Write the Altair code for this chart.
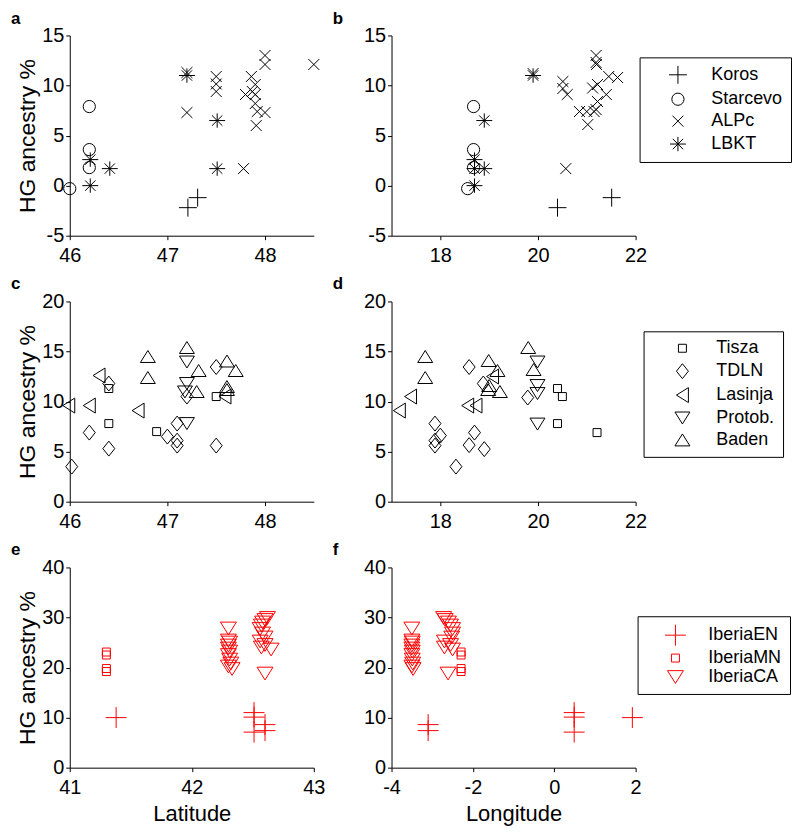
import altair as alt
import pandas as pd

# ---------------- data ----------------
# Panel a (latitude), Hungarian Neolithic groups
a_koros_x = [47.21, 47.31]
a_koros_y = [-2.2, -1.2]
a_starcevo_x = [46.0, 46.2, 46.2, 46.2]
a_starcevo_y = [-0.3, 7.9, 3.6, 1.8]
a_alpc_x = [47.2, 47.2, 47.5, 47.5, 47.5, 47.78, 47.8, 47.86, 47.87, 47.9, 47.9, 47.9, 47.92, 47.91, 48.0, 48.0, 48.0, 48.5]
a_alpc_y = [11.3, 7.3, 10.9, 10.15, 9.4, 1.7, 9.1, 10.9, 9.4, 10.1, 9.1, 8.2, 7.4, 6.0, 7.3, 13.0, 12.1, 12.1]
a_lbkt_x = [46.21, 46.21, 46.41, 47.2, 47.51, 47.51]
a_lbkt_y = [2.6, 0.0, 1.7, 11.0, 6.5, 1.7]

# Panel b (longitude)
b_koros_x = [20.4, 21.51]
b_koros_y = [-2.2, -1.2]
b_starcevo_x = [18.56, 18.68, 18.68, 18.68]
b_starcevo_y = [-0.3, 7.9, 3.6, 1.8]
b_alpc_x = [19.9, 20.51, 20.51, 20.6, 20.57, 20.85, 21.0, 21.02, 21.15, 21.19, 21.19, 21.2, 21.12, 21.22, 21.22, 21.19, 21.4, 21.45, 21.63]
b_alpc_y = [11.2, 10.4, 9.7, 9.1, 1.7, 7.4, 7.4, 6.1, 7.4, 13.0, 12.3, 12.1, 9.75, 10.1, 8.4, 7.6, 9.1, 10.9, 10.8]
b_lbkt_x = [18.7, 18.7, 18.7, 18.9, 18.9, 19.9]
b_lbkt_y = [2.6, 0.0, 1.7, 1.7, 6.5, 11.0]

# Panel c (latitude), Middle/Late Neolithic groups
c_tisza_x = [46.4, 46.4, 46.89, 47.5]
c_tisza_y = [11.3, 7.8, 7.0, 10.5]
c_tdln_x = [46.02, 46.2, 46.4, 46.4, 47.0, 47.1, 47.1, 47.1, 47.2, 47.5, 47.5]
c_tdln_y = [3.5, 6.9, 5.3, 11.8, 6.5, 7.8, 6.1, 5.6, 10.5, 13.45, 5.6]
c_lasinja_x = [45.99, 46.2, 46.3, 46.7, 47.59]
c_lasinja_y = [9.6, 9.6, 12.6, 9.1, 10.5]
c_protob_x = [47.2, 47.2, 47.18, 47.2]
c_protob_y = [13.95, 11.8, 10.96, 7.8]
c_baden_x = [46.8, 46.8, 47.2, 47.32, 47.3, 47.61, 47.7, 47.61, 47.61]
c_baden_y = [14.5, 12.4, 15.4, 13.1, 11.0, 14.05, 13.1, 11.5, 11.2]

# Panel d (longitude)
d_tisza_x = [20.4, 20.5, 20.4, 21.21]
d_tisza_y = [11.3, 10.5, 7.8, 6.9]
d_tdln_x = [17.89, 17.89, 17.89, 18.0, 18.32, 18.59, 18.59, 18.7, 18.9, 18.88, 19.79]
d_tdln_y = [7.8, 6.1, 5.6, 6.6, 3.5, 13.45, 5.65, 6.9, 5.25, 11.8, 10.4]
d_lasinja_x = [17.16, 17.39, 18.56, 18.73, 19.07]
d_lasinja_y = [9.1, 10.5, 9.6, 9.6, 12.5]
d_protob_x = [19.99, 19.99, 19.99, 19.99]
d_protob_y = [13.95, 11.6, 10.8, 7.75]
d_baden_x = [17.69, 17.69, 19.8, 19.91, 18.99, 18.98, 19.0, 19.17, 19.22]
d_baden_y = [14.5, 12.4, 15.4, 13.2, 14.1, 11.2, 11.6, 13.1, 11.0]

# Panel e (latitude), Iberia
e_en_x = [41.38, 42.51, 42.51, 42.51, 42.6, 42.6]
e_en_y = [10.0, 11.0, 10.1, 7.1, 8.6, 7.4]
e_mn_x = [41.3, 41.3, 41.3, 41.3]
e_mn_y = [23.1, 22.5, 19.8, 19.2]
e_ca_x = [42.3, 42.3, 42.31, 42.3, 42.3, 42.31, 42.3, 42.31, 42.32, 42.3, 42.33,
          42.62, 42.6, 42.58, 42.57, 42.56, 42.58, 42.6, 42.56, 42.6, 42.57, 42.65, 42.6]
e_ca_y = [27.8, 25.4, 25.0, 24.4, 23.8, 23.2, 22.5, 21.6, 20.8, 20.2, 19.7,
          29.9, 29.5, 29.0, 28.4, 27.7, 26.8, 26.0, 25.2, 24.5, 24.0, 23.6, 18.8]

# Panel f (longitude)
f_en_x = [-3.1, -3.1, 0.49, 0.49, 0.49, 1.92]
f_en_y = [8.6, 7.4, 11.0, 10.1, 7.1, 10.0]
f_mn_x = [-2.29, -2.29, -2.29, -2.29]
f_mn_y = [23.1, 22.5, 19.8, 19.2]
f_ca_x = [-3.5, -3.5, -3.49, -3.5, -3.5, -3.49, -3.5, -3.49, -3.48, -3.5, -3.47,
          -2.72, -2.68, -2.6, -2.55, -2.5, -2.5, -2.52, -2.7, -2.55, -2.7, -2.5, -2.61]
f_ca_y = [27.8, 25.4, 25.0, 24.4, 23.8, 23.2, 22.5, 21.6, 20.8, 20.2, 19.7,
          29.9, 29.5, 29.0, 28.4, 27.7, 26.8, 26.0, 25.2, 24.5, 24.0, 23.6, 18.8]

groups1 = ["Koros", "Starcevo", "ALPc", "LBKT"]
groups2 = ["Tisza", "TDLN", "Lasinja", "Protob.", "Baden"]
groups3 = ["IberiaEN", "IberiaMN", "IberiaCA"]

# ---------------- symbol styles ----------------
PLUS = "M-1,0L1,0M0,-1L0,1"
XMARK = "M-1,-1L1,1M-1,1L1,-1"
STAR = "M-1,0L1,0M0,-0.9L0,0.9M-0.65,-0.65L0.65,0.65M-0.65,0.65L0.65,-0.65"
DIAMOND = "M0,-1L0.8,0L0,1L-0.8,0Z"
TRI_LEFT = "M-0.8,0L0.8,-1L0.8,1Z"
TRI_DOWN = "M-1,-0.8L1,-0.8L0,0.8Z"
TRI_UP = "M-1,0.8L1,0.8L0,-0.8Z"

shapes1 = [PLUS, "circle", XMARK, STAR]
sizes1 = [324, 150, 121, 256]
shapes2 = ["square", DIAMOND, TRI_LEFT, TRI_DOWN, TRI_UP]
sizes2 = [64, 225, 225, 225, 225]
shapes3 = [PLUS, "square", TRI_DOWN]
sizes3 = [441, 64, 256]

FONT = "Liberation Sans"


def frame(pairs):
    rows = []
    for name, xs, ys in pairs:
        for x, y in zip(xs, ys):
            rows.append({"g": name, "x": x, "y": y})
    return pd.DataFrame(rows)


def panel(df, label, xdom, xticks, xtitle, ydom, yticks, ytitle,
          groups, shapes, sizes, color, leg_opts):
    if leg_opts is None:
        leg = None
    else:
        lx, ly, so, lo, rp = leg_opts
        leg = alt.Legend(
            orient="none", legendX=lx, legendY=ly,
            title=None, strokeColor="black", padding=8,
            symbolOffset=so, labelOffset=lo, rowPadding=rp,
            labelFont=FONT, labelFontSize=18, labelColor="black",
            symbolStrokeColor=color, symbolStrokeWidth=1,
            symbolFillColor="transparent",
        )
    return alt.Chart(df).mark_point(filled=False, strokeWidth=1, opacity=1,
                                    color=color, clip=False).encode(
        x=alt.X("x:Q", title=xtitle,
                scale=alt.Scale(domain=xdom, nice=False, zero=False),
                axis=alt.Axis(values=xticks, labelFlush=False, labelOverlap=False,
                              labelExpr="toString(datum.value)")),
        y=alt.Y("y:Q", title=ytitle,
                scale=alt.Scale(domain=ydom, nice=False, zero=False),
                axis=alt.Axis(values=yticks, labelOverlap=False,
                              labelExpr="toString(datum.value)")),
        shape=alt.Shape("g:N", scale=alt.Scale(domain=groups, range=shapes), legend=leg),
        size=alt.Size("g:N", scale=alt.Scale(type="ordinal", domain=groups, range=sizes), legend=leg),
    ).properties(
        width=245, height=201,
        title=alt.TitleParams(label, anchor="start", frame="group", dx=-59,
                              fontSize=17, fontWeight="bold", font=FONT,
                              color="black", offset=-2),
    )


df_a = frame([("Koros", a_koros_x, a_koros_y), ("Starcevo", a_starcevo_x, a_starcevo_y),
              ("ALPc", a_alpc_x, a_alpc_y), ("LBKT", a_lbkt_x, a_lbkt_y)])
df_b = frame([("Koros", b_koros_x, b_koros_y), ("Starcevo", b_starcevo_x, b_starcevo_y),
              ("ALPc", b_alpc_x, b_alpc_y), ("LBKT", b_lbkt_x, b_lbkt_y)])
df_c = frame([("Tisza", c_tisza_x, c_tisza_y), ("TDLN", c_tdln_x, c_tdln_y),
              ("Lasinja", c_lasinja_x, c_lasinja_y), ("Protob.", c_protob_x, c_protob_y),
              ("Baden", c_baden_x, c_baden_y)])
df_d = frame([("Tisza", d_tisza_x, d_tisza_y), ("TDLN", d_tdln_x, d_tdln_y),
              ("Lasinja", d_lasinja_x, d_lasinja_y), ("Protob.", d_protob_x, d_protob_y),
              ("Baden", d_baden_x, d_baden_y)])
df_e = frame([("IberiaEN", e_en_x, e_en_y), ("IberiaMN", e_mn_x, e_mn_y),
              ("IberiaCA", e_ca_x, e_ca_y)])
df_f = frame([("IberiaEN", f_en_x, f_en_y), ("IberiaMN", f_mn_x, f_mn_y),
              ("IberiaCA", f_ca_x, f_ca_y)])

BLACK = "#000000"
RED = "#ff0000"

pa = panel(df_a, "a", [46, 48.5], [46, 47, 48], None, [-5, 15], [-5, 0, 5, 10, 15],
           "HG ancestry %", groups1, shapes1, sizes1, BLACK, None)
pb = panel(df_b, "b", [17, 22], [18, 20, 22], None, [-5, 15], [-5, 0, 5, 10, 15],
           None, groups1, shapes1, sizes1, BLACK, (249, 22, 21, 24, 4))
pc = panel(df_c, "c", [46, 48.5], [46, 47, 48], None, [0, 20], [0, 5, 10, 15, 20],
           "HG ancestry %", groups2, shapes2, sizes2, BLACK, None)
pd_ = panel(df_d, "d", [17, 22], [18, 20, 22], None, [0, 20], [0, 5, 10, 15, 20],
            None, groups2, shapes2, sizes2, BLACK, (253, 30, 22, 25, 4))
pe = panel(df_e, "e", [41, 43], [41, 42, 43], "Latitude", [0, 40], [0, 10, 20, 30, 40],
           "HG ancestry %", groups3, shapes3, sizes3, RED, None)
pf = panel(df_f, "f", [-4, 2], [-4, -2, 0, 2], "Longitude", [0, 40], [0, 10, 20, 30, 40],
           None, groups3, shapes3, sizes3, RED, (247, 49, 19, 22, 1))

chart = alt.concat(pa, pb, pc, pd_, pe, pf, columns=2,
                   spacing={"row": 66, "column": 78}, bounds="flush").resolve_scale(
    shape="independent", size="independent", x="independent", y="independent"
).resolve_legend(shape="independent", size="independent").properties(
    padding={"left": 3, "top": 0, "right": 0, "bottom": 0},
    background="white",
).configure_view(stroke=None).configure_axis(
    grid=False, domainColor="black", domainWidth=1, tickColor="black", tickWidth=1,
    tickSize=4, labelColor="black", labelFont=FONT, labelFontSize=20, labelPadding=2,
    titleFont=FONT, titleFontSize=22, titleFontWeight="normal", titleColor="black",
).configure_axisY(minExtent=27, maxExtent=27, titlePadding=3, titleFontSize=23).configure_axisX(
    labelPadding=6, titlePadding=6)

chart.save("out.html", embed_options={"renderer": "svg", "actions": False})
